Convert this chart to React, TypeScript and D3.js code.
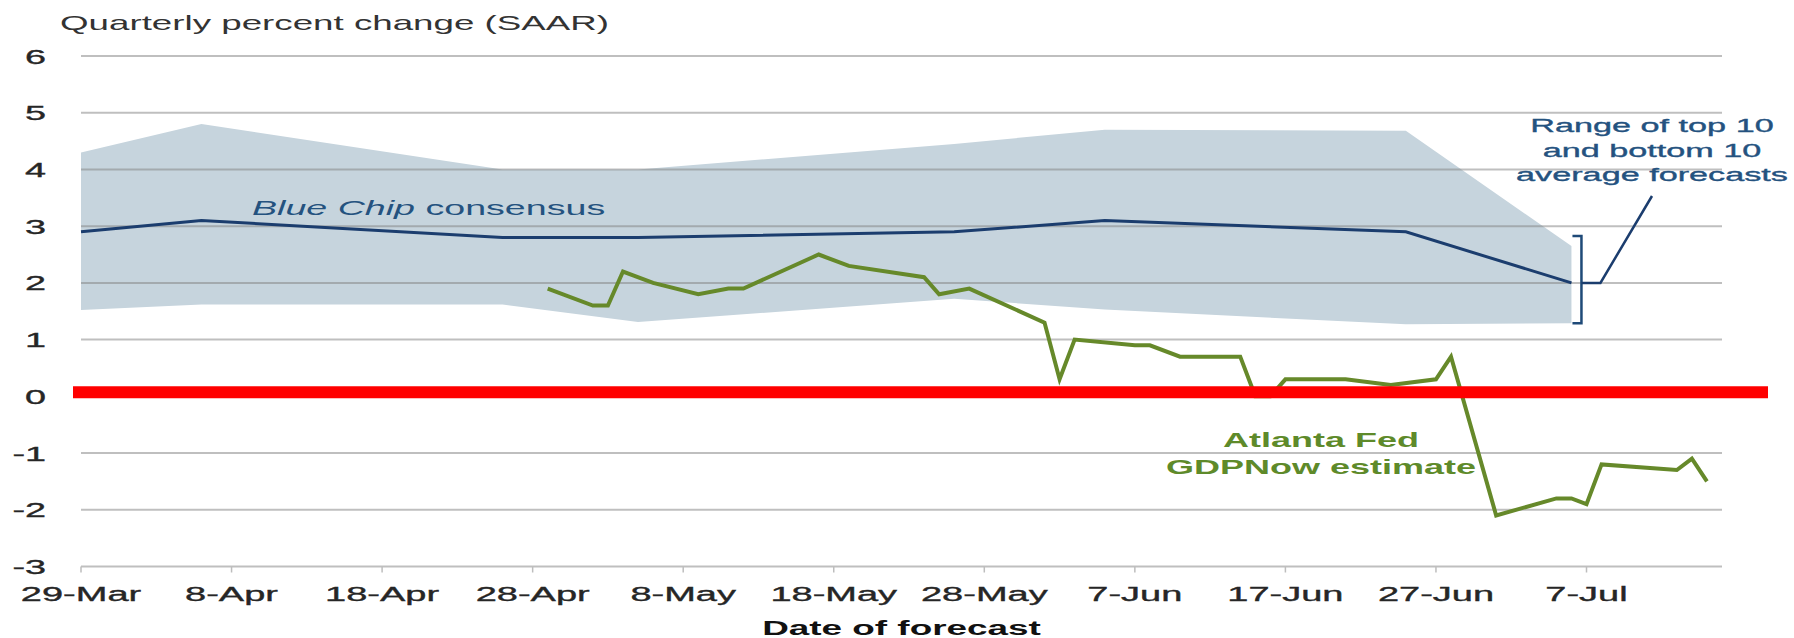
import * as d3 from "d3"

const WIDTH = 1794
const HEIGHT = 638
const MARGIN = { top: 56, right: 72, bottom: 71.5, left: 81 }

// text in the source picture is stretched horizontally
const SX = 1.8
const FONT = "'Liberation Sans', Arial, sans-serif"

// Blue Chip survey (2022)
const blueChipDates = [
  "2022-03-29", "2022-04-06", "2022-04-26", "2022-05-05",
  "2022-05-26", "2022-06-05", "2022-06-25", "2022-07-06",
]
const blueChipConsensus = [2.9, 3.1, 2.8, 2.8, 2.9, 3.1, 2.9, 2.0]
const blueChipTop10 = [4.3, 4.8, 4.0, 4.0, 4.45, 4.7, 4.68, 2.65]
const blueChipBottom10 = [1.52, 1.62, 1.62, 1.31, 1.72, 1.53, 1.27, 1.29]

// Atlanta Fed GDPNow
const gdpNowDates = [
  "2022-04-29", "2022-05-02", "2022-05-03", "2022-05-04", "2022-05-06",
  "2022-05-09", "2022-05-11", "2022-05-12", "2022-05-17", "2022-05-19",
  "2022-05-24", "2022-05-25", "2022-05-27", "2022-06-01", "2022-06-02",
  "2022-06-03", "2022-06-07", "2022-06-08", "2022-06-10", "2022-06-14",
  "2022-06-15", "2022-06-16", "2022-06-17", "2022-06-21", "2022-06-24",
  "2022-06-27", "2022-06-28", "2022-07-01", "2022-07-05", "2022-07-06",
  "2022-07-07", "2022-07-08", "2022-07-13", "2022-07-14", "2022-07-15",
]
const gdpNowValues = [
  1.9, 1.6, 1.6, 2.2, 2.0,
  1.8, 1.9, 1.9, 2.5, 2.3,
  2.1, 1.8, 1.9, 1.3, 0.3,
  1.0, 0.9, 0.9, 0.7, 0.7,
  0.0, 0.0, 0.3, 0.3, 0.2,
  0.3, 0.7, -2.1, -1.8, -1.8,
  -1.9, -1.2, -1.3, -1.1, -1.5,
]

const xDomain = ["2022-03-29", "2022-07-16"]
const xTickDates = [
  "2022-03-29", "2022-04-08", "2022-04-18", "2022-04-28", "2022-05-08",
  "2022-05-18", "2022-05-28", "2022-06-07", "2022-06-17", "2022-06-27",
  "2022-07-07",
]
const yTickValues = [-3, -2, -1, 0, 1, 2, 3, 4, 5, 6]

const rangeNote = ["Range of top 10", "and bottom 10", "average forecasts"]

const parse = d3.timeParse("%Y-%m-%d")
const fmt = d3.timeFormat("%-d-%b")

type Pt = { date: Date; value: number }
type Band = { date: Date; lo: number; hi: number; mid: number }

const Stretched = ({
  x,
  y,
  anchor = "start",
  size,
  weight = "normal",
  fill,
  sx = SX,
  heavy = false,
  children,
}: {
  x: number
  y: number
  anchor?: string
  size: number
  weight?: string
  fill: string
  sx?: number
  heavy?: boolean
  children: any
}) => (
  <text
    transform={`translate(${x},${y}) scale(${sx},1)`}
    textAnchor={anchor}
    fontSize={size}
    fontWeight={weight}
    fill={fill}
    stroke={heavy ? fill : "none"}
    strokeWidth={heavy ? 0.35 : 0}
    fontFamily={FONT}
  >
    {children}
  </text>
)

export default function App() {
  const x = d3
    .scaleTime()
    .domain(xDomain.map((d) => parse(d) as Date))
    .range([MARGIN.left, WIDTH - MARGIN.right])
  const y = d3
    .scaleLinear()
    .domain([-3, 6])
    .range([HEIGHT - MARGIN.bottom, MARGIN.top])

  const band: Band[] = blueChipDates.map((d, i) => ({
    date: parse(d) as Date,
    lo: blueChipBottom10[i],
    hi: blueChipTop10[i],
    mid: blueChipConsensus[i],
  }))
  const gdpNow: Pt[] = gdpNowDates.map((d, i) => ({
    date: parse(d) as Date,
    value: gdpNowValues[i],
  }))

  const areaPath = d3
    .area<Band>()
    .x((d) => x(d.date))
    .y0((d) => y(d.lo))
    .y1((d) => y(d.hi))(band)
  const consensusPath = d3
    .line<Band>()
    .x((d) => x(d.date))
    .y((d) => y(d.mid))(band)
  const gdpPath = d3
    .line<Pt>()
    .x((d) => x(d.date))
    .y((d) => y(d.value))(gdpNow)

  const [x0, x1] = x.range()
  const last = band[band.length - 1]

  // bracket next to the last survey
  const bx = x(last.date) + 10
  const bTop = y(last.hi) - 10
  const bBot = y(last.lo)
  const bMid = y(last.mid)
  const noteX = 1652
  const noteY = 132

  return (
    <svg
      width={WIDTH}
      height={HEIGHT}
      style={{ position: "absolute", left: 0, top: 0, display: "block", background: "#fff" }}
    >
      {/* range band */}
      <path d={areaPath ?? ""} fill="#c6d4dd" />

      {/* gridlines */}
      {yTickValues.map((v) => (
        <line
          key={v}
          x1={x0}
          x2={x1}
          y1={y(v)}
          y2={y(v)}
          stroke="#808080"
          strokeOpacity={0.5}
          strokeWidth={2}
        />
      ))}
      {xTickDates.map((d) => (
        <line
          key={d}
          x1={x(parse(d) as Date)}
          x2={x(parse(d) as Date)}
          y1={y(-3)}
          y2={y(-3) + 6}
          stroke="#bdbdbd"
          strokeWidth={1.5}
        />
      ))}

      <path d={consensusPath ?? ""} fill="none" stroke="#1b3d6e" strokeWidth={3} />
      <path
        d={gdpPath ?? ""}
        fill="none"
        stroke="#66892a"
        strokeWidth={4}
        strokeLinejoin="miter"
      />

      {/* zero line, drawn over the series */}
      <line
        x1={x0 - 8}
        x2={x1 + 46}
        y1={y(0) - 4}
        y2={y(0) - 4}
        stroke="#ff0000"
        strokeWidth={12}
      />

      {/* bracket and connector */}
      <path
        d={`M${bx - 9},${bTop} H${bx} V${bBot} H${bx - 9}`}
        fill="none"
        stroke="#1f4a78"
        strokeWidth={2.5}
      />
      <path
        d={`M${bx},${bMid} H${bx + 19} L${noteX},${noteY + 64}`}
        fill="none"
        stroke="#1b3d6e"
        strokeWidth={2.5}
      />

      {/* title */}
      <Stretched x={60} y={30} size={21} sx={1.75} fill="#333">
        Quarterly percent change (SAAR)
      </Stretched>

      {/* y tick labels */}
      {yTickValues.map((v) => (
        <Stretched
          key={v}
          x={46}
          y={y(v) + 7.5}
          anchor="end"
          size={21}
          heavy
          fill="#262626"
        >
          {String(v)}
        </Stretched>
      ))}

      {/* x tick labels */}
      {xTickDates.map((d) => (
        <Stretched
          key={d}
          x={x(parse(d) as Date)}
          y={601}
          anchor="middle"
          size={20}
          sx={1.9}
          heavy
          fill="#262626"
        >
          {fmt(parse(d) as Date)}
        </Stretched>
      ))}

      <Stretched
        x={(x0 + x1) / 2}
        y={635}
        anchor="middle"
        size={20.5}
        weight="bold"
        fill="#111"
      >
        Date of forecast
      </Stretched>

      <Stretched x={252} y={215} size={20} sx={1.88} fill="#24527f">
        <tspan fontStyle="italic">Blue Chip</tspan> consensus
      </Stretched>

      <Stretched x={1321} y={447} anchor="middle" size={20} weight="bold" fill="#5e8a2a">
        Atlanta Fed
      </Stretched>
      <Stretched x={1321} y={474} anchor="middle" size={20} weight="bold" fill="#5e8a2a">
        GDPNow estimate
      </Stretched>

      {rangeNote.map((t, i) => (
        <Stretched
          key={t}
          x={noteX}
          y={noteY + i * 24.5}
          anchor="middle"
          size={19}
          heavy
          fill="#24527f"
        >
          {t}
        </Stretched>
      ))}
    </svg>
  )
}
